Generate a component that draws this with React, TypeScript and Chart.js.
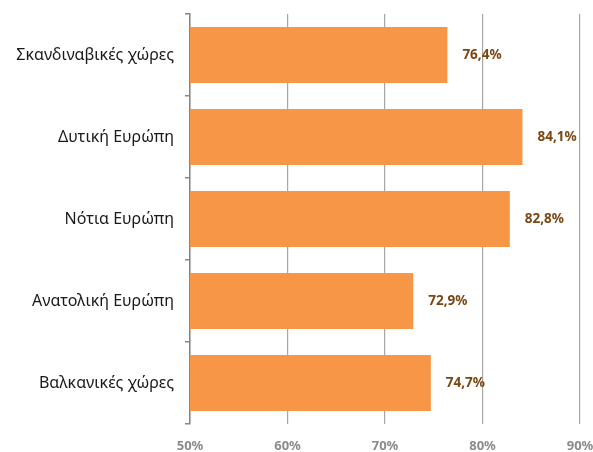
import React, { useEffect, useRef } from "react";
import { Chart, registerables } from "chart.js";

Chart.register(...registerables);

const categories = [
  "Σκανδιναβικές χώρες",
  "Δυτική Ευρώπη",
  "Νότια Ευρώπη",
  "Ανατολική Ευρώπη",
  "Βαλκανικές χώρες",
];
const values = [76.4, 84.1, 82.8, 72.9, 74.7];
const xMin = 50;
const xMax = 90;
const xStep = 10;

const FONT = "'Noto Sans', 'DejaVu Sans', sans-serif";

const labelPlugin = {
  id: "valueLabels",
  afterDatasetsDraw(chart: any) {
    const ctx = chart.ctx;
    const meta = chart.getDatasetMeta(0);
    ctx.save();
    ctx.font = `bold 13.5px ${FONT}`;
    ctx.fillStyle = "#7a4612";
    ctx.textAlign = "left";
    ctx.textBaseline = "middle";
    meta.data.forEach((bar: any, i: number) => {
      const v = values[i];
      const txt = v.toFixed(1).replace(".", ",") + "%";
      ctx.fillText(txt, bar.x + 15, bar.y);
    });
    ctx.restore();
  },
};

export default function App() {
  const ref = useRef<HTMLCanvasElement | null>(null);
  useEffect(() => {
    if (!ref.current) return;
    const chart = new Chart(ref.current, {
      type: "bar",
      data: {
        labels: categories,
        datasets: [
          {
            data: values,
            backgroundColor: "#F79646",
            barPercentage: 0.68,
            categoryPercentage: 1,
          },
        ],
      },
      options: {
        indexAxis: "y",
        animation: false,
        responsive: true,
        maintainAspectRatio: false,
        layout: { padding: { top: 14, right: 0, left: 0, bottom: 0 } },
        plugins: {
          legend: { display: false },
          tooltip: { enabled: false },
        },
        scales: {
          x: {
            min: xMin,
            max: xMax,
            ticks: {
              stepSize: xStep,
              callback: (v: any) => v + "%",
              color: "#8a8a8a",
              font: { family: FONT, size: 13, weight: "bold" },
              padding: 14,
            },
            grid: {
              color: "#a6a6a6",
              lineWidth: 1.2,
              drawTicks: false,
            },
            border: { display: false },
            afterFit: (s: any) => {
              s.height = 28;
              s.paddingLeft = 0;
              s.paddingRight = 13;
            },
          },
          y: {
            ticks: {
              color: "#1a1a1a",
              font: { family: FONT, size: 16 },
              padding: 11,
            },
            grid: {
              display: true,
              drawOnChartArea: false,
              drawTicks: true,
              tickLength: 5,
              color: "#868686",
              lineWidth: 1.5,
              offset: true,
            },
            border: { display: true, color: "#868686", width: 1.5 },
            afterFit: (s: any) => {
              s.width = 190;
              s.paddingTop = 0;
              s.paddingBottom = 0;
            },
          },
        },
      },
      plugins: [labelPlugin],
    });
    return () => chart.destroy();
  }, []);
  return (
    <div style={{ position: "fixed", left: 0, top: 0, width: 593, height: 452 }}>
      <canvas ref={ref} />
    </div>
  );
}
